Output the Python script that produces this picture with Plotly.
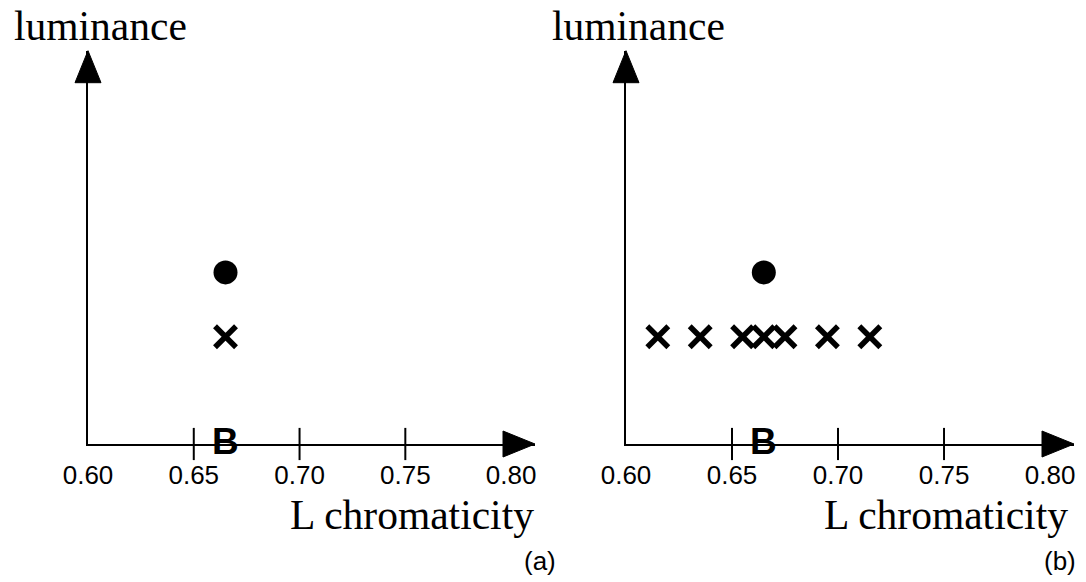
import plotly.graph_objects as go

# ---- data ----
tick_vals = [0.60, 0.65, 0.70, 0.75, 0.80]
tick_text = ["0.60", "0.65", "0.70", "0.75", "0.80"]
minor_ticks = [0.65, 0.70, 0.75]

a_circle_x = [0.665]
a_circle_y = [0.48]
a_cross_x = [0.665]
a_cross_y = [0.30]

b_circle_x = [0.665]
b_circle_y = [0.48]
b_cross_x = [0.615, 0.635, 0.655, 0.665, 0.675, 0.695, 0.715]
b_cross_y = [0.30, 0.30, 0.30, 0.30, 0.30, 0.30, 0.30]

b_label_x = 0.665
x_title = "L chromaticity"
y_title = "luminance"
panel_labels = ["(a)", "(b)"]

# ---- layout geometry (pixels) ----
W, H = 1086, 582
def px(v):
    return v / W
def py(v):
    return 1 - v / H

X_RANGE = [0.60, 0.8113]
Y_RANGE = [0, 1.1]
axis_y_px = 444
top_px = 50.7
panels = [
    dict(x0=88, x1=535, xa="x", ya="y"),
    dict(x0=626, x1=1074, xa="x2", ya="y2"),
]

fig = go.Figure()

SANS = "Liberation Sans, Arial, sans-serif"
SERIF = "Liberation Serif, Times New Roman, serif"

series = [
    (a_circle_x, a_circle_y, a_cross_x, a_cross_y),
    (b_circle_x, b_circle_y, b_cross_x, b_cross_y),
]

for i, (p, s) in enumerate(zip(panels, series)):
    cx, cy, xx, xy = s
    fig.add_trace(go.Scatter(x=cx, y=cy, mode="markers", xaxis=p["xa"], yaxis=p["ya"],
                             marker=dict(symbol="circle", size=24, color="black", line=dict(width=0)),
                             showlegend=False, cliponaxis=False))
    fig.add_trace(go.Scatter(x=xx, y=xy, mode="markers", xaxis=p["xa"], yaxis=p["ya"],
                             marker=dict(symbol="x-thin-open", size=21, color="black",
                                         line=dict(width=5.5, color="black")),
                             showlegend=False, cliponaxis=False))
    # crossing tick marks
    fig.add_trace(go.Scatter(x=minor_ticks, y=[0] * len(minor_ticks), mode="markers",
                             xaxis=p["xa"], yaxis=p["ya"],
                             marker=dict(symbol="line-ns-open", size=23, color="black",
                                         line=dict(width=2, color="black")),
                             showlegend=False, cliponaxis=False))

    # arrowheads
    tx, ty = p["x1"], axis_y_px
    fig.add_shape(type="path", xref="paper", yref="paper",
                  path=f"M {px(tx)},{py(ty)} L {px(tx-32)},{py(ty-13)} L {px(tx-32)},{py(ty+13)} Z",
                  fillcolor="black", line=dict(color="black", width=1))
    ax, ay = p["x0"], top_px
    fig.add_shape(type="path", xref="paper", yref="paper",
                  path=f"M {px(ax)},{py(ay)} L {px(ax-13)},{py(ay+32)} L {px(ax+13)},{py(ay+32)} Z",
                  fillcolor="black", line=dict(color="black", width=1))

    # B label
    fig.add_annotation(x=b_label_x, y=0, xref=p["xa"], yref=p["ya"], text="<b>B</b>",
                       showarrow=False, font=dict(family=SANS, size=37, color="black"),
                       xanchor="center", yanchor="middle", yshift=3)
    # titles
    fig.add_annotation(x=px(p["x0"] - 76), y=py(26), xref="paper", yref="paper", text=y_title,
                       showarrow=False, font=dict(family=SERIF, size=41.5, color="black"),
                       xanchor="left", yanchor="middle")
    fig.add_annotation(x=px(p["x1"] + (1 if i == 0 else -4)), y=py(515), xref="paper", yref="paper",
                       text=x_title, showarrow=False,
                       font=dict(family=SERIF, size=41.5, color="black"),
                       xanchor="right", yanchor="middle")
    fig.add_annotation(x=px(p["x1"] + (23 if i == 0 else 4)), y=py(561), xref="paper", yref="paper",
                       text=panel_labels[i], showarrow=False,
                       font=dict(family=SANS, size=26, color="black"),
                       xanchor="right", yanchor="middle")

axis_common = dict(showgrid=False, zeroline=False, showline=True, linewidth=2, linecolor="black",
                   automargin=False)
ydom = [py(axis_y_px), py(top_px)]
for i, p in enumerate(panels):
    suffix = "" if i == 0 else "2"
    fig.update_layout(**{
        f"xaxis{suffix}": dict(domain=[px(p["x0"]), px(p["x1"])], range=X_RANGE,
                               tickvals=tick_vals, ticktext=tick_text, ticks="",
                               tickfont=dict(family=SANS, size=26, color="black"),
                               anchor=f"y{suffix}", ticklabelstandoff=7, **axis_common),
        f"yaxis{suffix}": dict(domain=ydom, range=Y_RANGE, showticklabels=False, ticks="",
                               anchor=f"x{suffix}", **axis_common),
    })

fig.update_layout(template="none", width=W, height=H, margin=dict(l=0, r=0, t=0, b=0, pad=0),
                  paper_bgcolor="white", plot_bgcolor="white", showlegend=False)

fig.write_html("out.html", config={"displayModeBar": False},
               post_script="document.body.style.margin='0';document.body.style.overflow='hidden';")
